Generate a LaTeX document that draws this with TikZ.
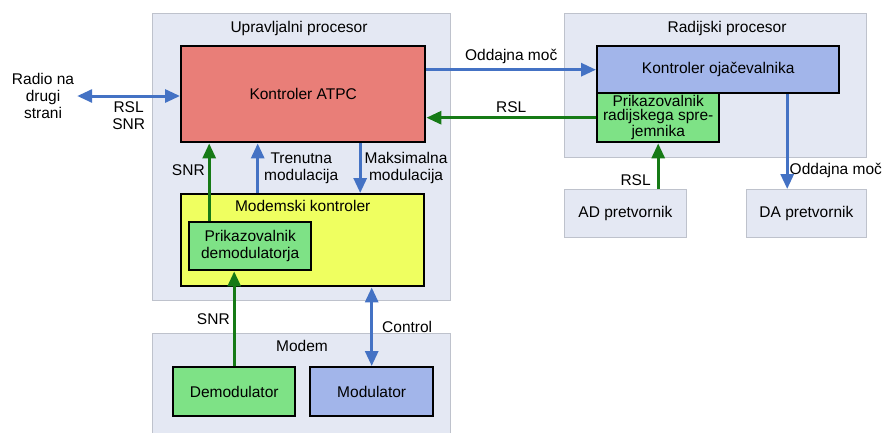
\documentclass[tikz,border=0pt]{standalone}
\usepackage{fontspec}
\setmainfont{Liberation Sans}
\usetikzlibrary{arrows.meta}

\definecolor{panelfill}{RGB}{228,232,243}
\definecolor{panelline}{RGB}{190,194,204}
\definecolor{atpcred}{RGB}{233,126,120}
\definecolor{modyellow}{RGB}{239,255,96}
\definecolor{boxgreen}{RGB}{126,226,134}
\definecolor{boxblue}{RGB}{162,181,234}
\definecolor{arrblue}{RGB}{68,114,196}
\definecolor{arrgreen}{RGB}{22,122,22}

\tikzset{
  panel/.style={draw=panelline, fill=panelfill, line width=0.8pt, anchor=north west, inner sep=0pt, align=center},
  box/.style={draw=black, line width=2.4pt, anchor=north west, inner sep=0pt, align=center},
  bluearr/.style={draw=arrblue, line width=3pt, -{Triangle[width=13pt,length=15pt]}},
  bluedbl/.style={draw=arrblue, line width=3pt, {Triangle[width=13pt,length=15pt]}-{Triangle[width=13pt,length=15pt]}},
  greenarr/.style={draw=arrgreen, line width=3pt, -{Triangle[width=13pt,length=15pt]}},
  lbl/.style={align=center, inner sep=3pt}
}

\begin{document}
\begin{tikzpicture}[x=1pt,y=-1pt, font=\fontsize{15.5}{17}\selectfont]
      \useasboundingbox (0,0) rectangle (882,432);
      % panels
      \node[panel, minimum width=298pt, minimum height=287pt] (upr) at (152,13) {};
      \node[panel, minimum width=302pt, minimum height=144pt] (radproc) at (564,13) {};
      \node[panel, minimum width=298pt, minimum height=110pt] (modem) at (152,333) {};
      \node[panel, minimum width=122pt, minimum height=48pt] (ad) at (564,189) {AD pretvornik};
      \node[panel, minimum width=120pt, minimum height=48pt] (da) at (746,189) {DA pretvornik};
      \node (uprtitle) at (299,28) {Upravljalni procesor};
      \node (radtitle) at (727,28) {Radijski procesor};
      \node (modemtitle) at (302,346) {Modem};
      % boxes
      \node[box, fill=atpcred, minimum width=244pt, minimum height=96pt] (atpc) at (180,45) {Kontroler ATPC};
      \node[box, fill=modyellow, minimum width=243pt, minimum height=92pt,
            label={[anchor=north, inner sep=0pt, yshift=-7pt]north:Modemski kontroler}] (modkon) at (180,193) {};
      \node[box, fill=boxgreen, minimum width=122pt, minimum height=48pt] (prikdem) at (188,221) {Prikazovalnik\\demodulatorja};
      \node[box, fill=boxgreen, minimum width=122pt, minimum height=49pt] (demod) at (172,366) {Demodulator};
      \node[box, fill=boxblue, minimum width=123pt, minimum height=49pt] (modul) at (309,366) {Modulator};
      \node[box, fill=boxblue, minimum width=242pt, minimum height=47pt] (kojac) at (596,45) {Kontroler oja\v{c}evalnika};
      \node[box, fill=boxgreen, minimum width=122pt, minimum height=49pt,
            font=\fontsize{15.5}{14}\selectfont] (prikrad) at (596,92) {Prikazovalnik\\radijskega spre-\\jemnika};
      \node[lbl] (radio) at (43,96) {Radio na\\drugi\\strani};
      % connectors
      \draw[bluedbl] (radio.east) -- node[lbl, below=1pt] {RSL\\SNR} (radio.east -| atpc.west);
      \draw[bluearr] (atpc.east |- kojac.west) -- node[lbl, above=1pt] {Oddajna mo\v{c}} (kojac.west);
      \draw[greenarr] (prikrad.west) -- node[lbl, above=1pt] {RSL} (prikrad.west -| atpc.east);
      \draw[greenarr] ([xshift=-41pt]prikdem.north) -- node[lbl, left, pos=0.66] {SNR} ([xshift=-41pt]prikdem.north |- atpc.south);
      \draw[bluearr] ([xshift=-45pt]modkon.north) -- node[lbl, right=2pt, midway] {Trenutna\\modulacija} ([xshift=-45pt]modkon.north |- atpc.south);
      \draw[bluearr] ([xshift=57pt]atpc.south) -- node[lbl, right=0pt, midway] {Maksimalna\\modulacija} ([xshift=57pt]atpc.south |- modkon.north);
      \draw[greenarr] (demod.north) -- node[lbl, left, midway] {SNR} (demod.north |- prikdem.south);
      \draw[bluedbl] (modul.north) -- node[lbl, right=6pt, midway] {Control} (modul.north |- modkon.south);
      \draw[greenarr] (ad.north -| prikrad.south) -- node[lbl, left=3pt, pos=0.2] {RSL} (prikrad.south);
      \draw[bluearr] ([xshift=69pt]kojac.south) -- node[lbl, right=-2pt, pos=0.8] {Oddajna mo\v{c}} ([xshift=69pt]kojac.south |- da.north);
\end{tikzpicture}
\end{document}
